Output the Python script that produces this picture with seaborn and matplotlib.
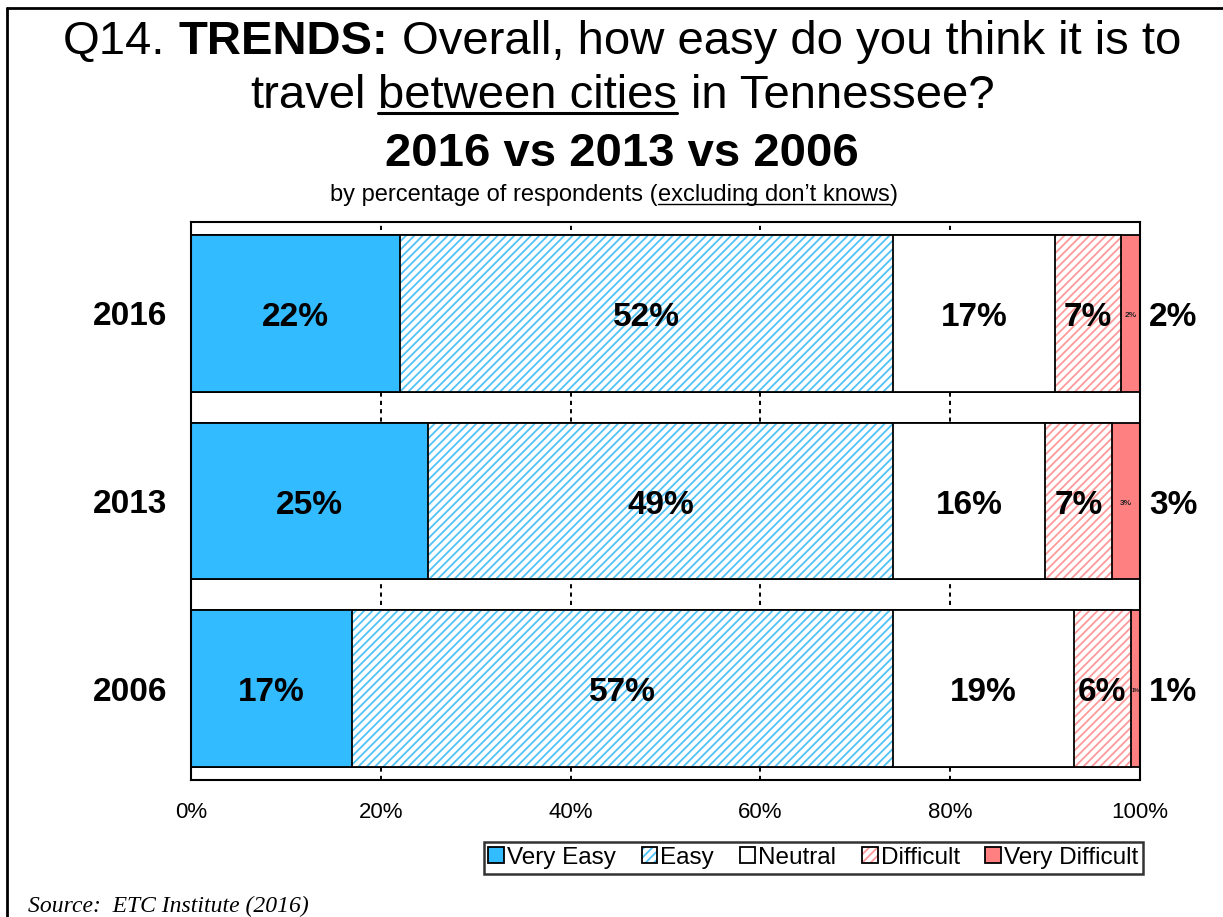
import numpy as np
import pandas as pd
import matplotlib
matplotlib.use("Agg")
import matplotlib.pyplot as plt
import matplotlib.patches as mpatches
from matplotlib.colors import to_rgba
from matplotlib.lines import Line2D
import seaborn as sns

# ---------------- data ----------------
years = ["2016", "2013", "2006"]
categories = ["Very Easy", "Easy", "Neutral", "Difficult", "Very Difficult"]
very_easy = [22, 25, 17]
easy = [52, 49, 57]
neutral = [17, 16, 19]
difficult = [7, 7, 6]
very_difficult = [2, 3, 1]
x_ticks = [0, 20, 40, 60, 80, 100]
x_tick_labels = ["0%", "20%", "40%", "60%", "80%", "100%"]

title_q = "Q14."
title_bold = "TRENDS:"
title_rest = "Overall, how easy do you think it is to"
title2_a = "travel"
title2_u = "between cities"
title2_b = "in Tennessee?"
title3 = "2016 vs 2013 vs 2006"
sub_a = "by percentage of respondents ("
sub_u = "excluding don\u2019t knows"
sub_b = ")"
source = "Source:  ETC Institute (2016)"

# ---------------- style ----------------
sns.set_style("white")
plt.rcParams["font.family"] = ["Liberation Sans", "DejaVu Sans"]
plt.rcParams["text.color"] = "black"
plt.rcParams["xtick.color"] = "black"
plt.rcParams["ytick.color"] = "black"
plt.rcParams["hatch.linewidth"] = 1.3
plt.rcParams["lines.scale_dashes"] = False

BLUE = "#33BBFF"
RED = "#FF8080"
face_colors = [BLUE, "white", "white", "white", RED]
hatches = [None, "////", None, "////", None]
hatch_colors = [None, "#4FC3F7", None, "#FF9A9A", None]

W, H = 1223, 917
fig = plt.figure(figsize=(W / 100, H / 100), dpi=100)
ax = fig.add_axes([191 / W, 1 - 780 / H, (1140 - 191) / W, (780 - 222) / H])

series = [very_easy, easy, neutral, difficult, very_difficult]
cum = np.cumsum(np.array(series), axis=0)

for i in reversed(range(len(categories))):
    df = pd.DataFrame({"year": years, "value": cum[i]})
    n_before = len(ax.patches)
    sns.barplot(data=df, x="value", y="year", orient="h", order=years,
                color=face_colors[i], saturation=1, width=0.836,
                edgecolor="black", linewidth=1.3, ax=ax, zorder=2)
    if hatches[i]:
        for p in ax.patches[n_before:]:
            p.set_hatch(hatches[i])
            p._hatch_color = to_rgba(hatch_colors[i])

# labels
dy = 0.022
for i in range(len(categories)):
    for j, yr in enumerate(years):
        v = series[i][j]
        xc = cum[i][j] - v / 2
        if i == len(categories) - 1:
            ax.text(xc, j + dy / 2, f"{v}%", ha="center", va="center",
                    fontsize=6 if v > 1 else 4, fontweight="bold", color="#222222", zorder=5)
            ax.text(100 + 3.5, j + dy, f"{v}%", ha="center", va="center",
                    fontsize=24, fontweight="bold", color="black", clip_on=False)
        else:
            ax.text(xc, j + dy, f"{v}%", ha="center", va="center",
                    fontsize=24, fontweight="bold", color="black", zorder=5)

ax.set_xlim(0, 100)
ax.set_ylim(2.486, -0.486)
ax.set_xlabel("")
ax.set_ylabel("")
ax.set_xticks(x_ticks)
ax.set_xticklabels(x_tick_labels, fontsize=16)
ax.set_yticks(range(len(years)))
ax.set_yticklabels(years, fontsize=24, fontweight="bold")
ax.tick_params(axis="x", length=0, pad=16)
ax.tick_params(axis="y", length=0, pad=17)
ax.set_axisbelow(True)
ax.xaxis.grid(True, color="black", linestyle=(0, (3, 3)), linewidth=1.4)
ax.yaxis.grid(False)
for s in ax.spines.values():
    s.set_visible(True)
    s.set_color("black")
    s.set_linewidth(1.5)
    s.set_zorder(6)

# ---------------- titles ----------------
fig.canvas.draw()
renderer = fig.canvas.get_renderer()


def text_width(s, **kw):
    t = fig.text(0, 0, s, **kw)
    w = t.get_window_extent(renderer).width
    t.remove()
    return w


def place_line(parts, y_px, xc_px, size, ul_off=5, ul_lw=2.0):
    sp = text_width("a a", size=size) - text_width("aa", size=size)
    widths = [text_width(p[0], size=size, weight=p[1]) for p in parts]
    total = sum(widths) + sum(sp for k, p in enumerate(parts) if k > 0 and p[3])
    x = xc_px - total / 2
    for k, (p, w) in enumerate(zip(parts, widths)):
        if k > 0 and p[3]:
            x += sp
        fig.text(x / W, 1 - y_px / H, p[0], size=size, weight=p[1],
                 ha="left", va="baseline", color="black")
        if p[2]:
            fig.add_artist(Line2D([x / W, (x + w) / W], [1 - (y_px + ul_off) / H] * 2,
                                  transform=fig.transFigure, lw=ul_lw, color="black"))
        x += w


place_line([(title_q, "normal", False, False), (title_bold, "bold", False, True),
            (title_rest, "normal", False, True)], 54, 622, 34)
place_line([(title2_a, "normal", False, False), (title2_u, "normal", True, True),
            (title2_b, "normal", False, True)], 108, 622, 34, ul_off=5, ul_lw=2.2)
place_line([(title3, "bold", False, False)], 166, 622, 34)
place_line([(sub_a, "normal", False, False), (sub_u, "normal", True, False),
            (sub_b, "normal", False, False)], 201, 614, 17, ul_off=3, ul_lw=1.0)

# ---------------- legend ----------------
handles = []
for i, c in enumerate(categories):
    p = mpatches.Patch(facecolor=face_colors[i], edgecolor="black", linewidth=1.3,
                       hatch=hatches[i], label=c)
    if hatches[i]:
        p._hatch_color = to_rgba(hatch_colors[i])
    handles.append(p)
leg = fig.legend(handles=handles, loc="upper right",
                 bbox_to_anchor=(1143 / W, 1 - 842 / H), bbox_transform=fig.transFigure,
                 ncol=5, frameon=True, fancybox=False, edgecolor="black",
                 fontsize=17.5, handlelength=0.65, handleheight=0.65, handletextpad=0.12,
                 columnspacing=1.05, borderpad=0.2, borderaxespad=0)
leg.get_frame().set_linewidth(1.8)
for t in leg.get_texts():
    t.set_color("black")

# ---------------- source & frame ----------------
fig.text(28 / W, 1 - 912 / H, source, family="Liberation Serif", style="italic",
         size=17, ha="left", va="baseline", color="black")
fig.add_artist(Line2D([7 / W, 1], [1 - 8 / H] * 2, transform=fig.transFigure, lw=2, color="black"))
fig.add_artist(Line2D([7 / W] * 2, [0, 1 - 8 / H], transform=fig.transFigure, lw=2, color="black"))

fig.savefig("out.png", dpi=100)
